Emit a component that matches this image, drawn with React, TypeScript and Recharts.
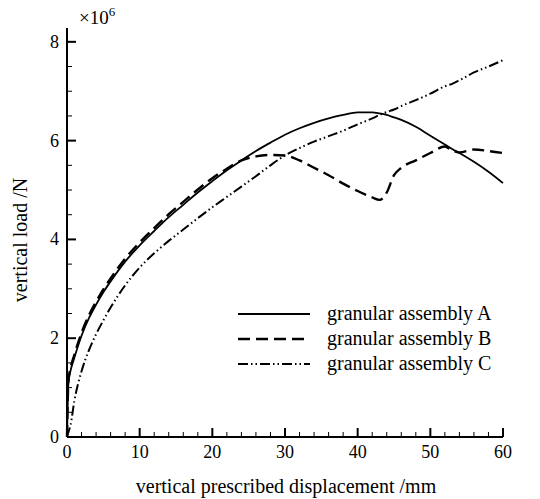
import React from 'react'
import { LineChart, Line, XAxis, YAxis, Legend, Label } from 'recharts'

// displacement (mm) and vertical load (x10^6 N)
const displacement = [0, 0.2, 0.5, 1, 2, 3, 4, 5, 6, 8, 10, 12, 14, 16, 18, 20, 22, 24, 26, 28, 30, 32, 34, 36, 38, 40, 42, 43, 44, 45, 46, 48, 50, 52, 53, 54, 56, 58, 60]
const loadA = [0, 1.1, 1.35, 1.6, 2.05, 2.4, 2.68, 2.93, 3.15, 3.55, 3.88, 4.17, 4.45, 4.7, 4.95, 5.18, 5.4, 5.6, 5.79, 5.96, 6.12, 6.25, 6.36, 6.45, 6.52, 6.57, 6.57, 6.55, 6.52, 6.47, 6.42, 6.28, 6.1, 5.92, 5.83, 5.75, 5.57, 5.37, 5.14]
const loadB = [0, 1.15, 1.4, 1.66, 2.11, 2.46, 2.74, 2.99, 3.21, 3.61, 3.94, 4.23, 4.51, 4.76, 5.01, 5.24, 5.43, 5.6, 5.68, 5.71, 5.7, 5.6, 5.45, 5.3, 5.13, 4.98, 4.85, 4.8, 4.95, 5.3, 5.45, 5.6, 5.75, 5.88, 5.8, 5.76, 5.82, 5.79, 5.75]
const loadC = [0, 0.1, 0.25, 0.72, 1.33, 1.75, 2.08, 2.36, 2.62, 3.07, 3.43, 3.72, 3.97, 4.2, 4.43, 4.65, 4.86, 5.07, 5.28, 5.5, 5.7, 5.85, 5.98, 6.09, 6.2, 6.33, 6.45, 6.52, 6.58, 6.63, 6.7, 6.82, 6.95, 7.1, 7.15, 7.22, 7.38, 7.5, 7.63]

const xTicks = [0, 2, 4, 6, 8, 10, 12, 14, 16, 18, 20, 22, 24, 26, 28, 30, 32, 34, 36, 38, 40, 42, 44, 46, 48, 50, 52, 54, 56, 58, 60]
const yTicks = [0, 0.5, 1, 1.5, 2, 2.5, 3, 3.5, 4, 4.5, 5, 5.5, 6, 6.5, 7, 7.5, 8]
const seriesNames = ['granular assembly A', 'granular assembly B', 'granular assembly C']

const data = displacement.map((d, i) => ({ d, a: loadA[i], b: loadB[i], c: loadC[i] }))

const serif = 'Liberation Serif'
const dashB = '12 6'
const dashC = '10 3 1.5 3 1.5 3'

function XTick(props: any) {
  const { x, y, payload } = props
  const major = payload.value % 10 === 0
  return (
    <g>
      <line x1={x} x2={x} y1={y} y2={y - (major ? 9 : 5)} stroke="#000" strokeWidth={major ? 2 : 1} />
      {major && (
        <text x={x} y={y + 21} textAnchor="middle" fontSize={18} fontFamily={serif} fill="#000">
          {payload.value}
        </text>
      )}
    </g>
  )
}

function YTick(props: any) {
  const { x, y, payload } = props
  const major = payload.value % 2 === 0
  return (
    <g>
      <line x1={x} x2={x + (major ? 9 : 5)} y1={y} y2={y} stroke="#000" strokeWidth={major ? 2 : 1} />
      {major && (
        <text x={x - 8} y={y + 6} textAnchor="end" fontSize={18} fontFamily={serif} fill="#000">
          {payload.value}
        </text>
      )}
    </g>
  )
}

function LegendBox() {
  const styles = [undefined, dashB, dashC]
  const widths = [1.8, 2.6, 2.2]
  return (
    <svg width={280} height={80}>
      {seriesNames.map((name, i) => (
        <g key={name}>
          <line x1={8} x2={80} y1={12 + i * 25} y2={12 + i * 25} stroke="#000" strokeWidth={widths[i]} strokeDasharray={styles[i]} />
          <text x={97} y={18 + i * 25} fontSize={20} fontFamily={serif} fill="#000">
            {name}
          </text>
        </g>
      ))}
    </svg>
  )
}

export default function App() {
  return (
    <div style={{ position: 'absolute', left: 0, top: 0, background: '#fff' }}>
      <LineChart width={540} height={499} data={data} margin={{ top: 28, right: 37, bottom: 0, left: 0 }}>
        <XAxis
          dataKey="d"
          type="number"
          domain={[0, 60]}
          ticks={xTicks}
          interval={0}
          tickSize={0}
          tickMargin={0}
          tickLine={false}
          tick={<XTick />}
          height={62}
          axisLine={{ stroke: '#000', strokeWidth: 2 }}
        >
          <Label
            content={() => (
              <text x={286} y={493} textAnchor="middle" fontSize={20} fontFamily={serif} fill="#000">
                vertical prescribed displacement /mm
              </text>
            )}
          />
        </XAxis>
        <YAxis
          type="number"
          domain={[0, 8.28]}
          ticks={yTicks}
          interval={0}
          tickSize={0}
          tickMargin={0}
          tickLine={false}
          tick={<YTick />}
          width={67}
          axisLine={{ stroke: '#000', strokeWidth: 2 }}
        >
          <Label
            content={() => (
              <text x={27} y={240} transform="rotate(-90 27 240)" textAnchor="middle" fontSize={20} fontFamily={serif} fill="#000">
                vertical load /N
              </text>
            )}
          />
          <Label
            content={() => (
              <text x={79} y={24} fontSize={19} fontFamily={serif} fill="#000">
                ×10<tspan dy={-8} fontSize={13}>6</tspan>
              </text>
            )}
          />
        </YAxis>
        <Legend
          layout="vertical"
          align="center"
          verticalAlign="middle"
          content={() => <LegendBox />}
          wrapperStyle={{ position: 'absolute', left: 230, top: 302, width: 280, height: 80 }}
        />
        <Line type="monotone" dataKey="a" stroke="#000" strokeWidth={1.8} dot={false} isAnimationActive={false} />
        <Line type="monotone" dataKey="b" stroke="#000" strokeWidth={2.4} strokeDasharray={dashB} dot={false} isAnimationActive={false} />
        <Line type="monotone" dataKey="c" stroke="#000" strokeWidth={2} strokeDasharray={dashC} dot={false} isAnimationActive={false} />
      </LineChart>
    </div>
  )
}
